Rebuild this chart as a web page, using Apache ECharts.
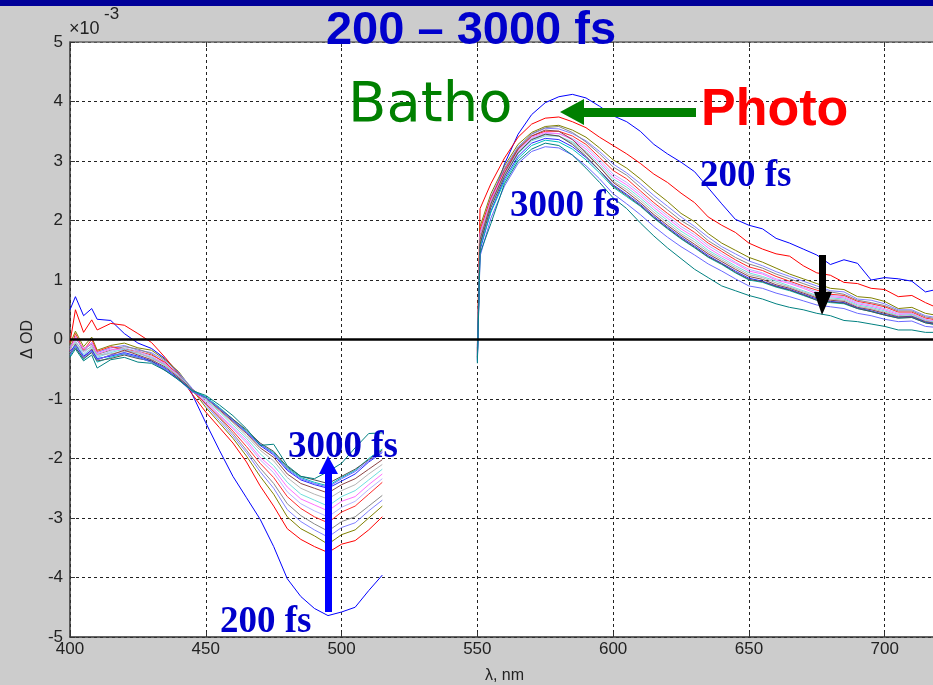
<!DOCTYPE html>
<html>
<head>
<meta charset="utf-8">
<script src="https://cdn.jsdelivr.net/npm/echarts@6/dist/echarts.min.js"></script>
<style>
  html, body { margin: 0; padding: 0; background: #cccccc; }
  #chart { width: 933px; height: 685px; }
</style>
</head>
<body>
<div id="chart"></div>
<script>
// Transient absorption difference spectra, delays from 200 fs to 3000 fs (ΔOD in units of 1e-3)
const wlLeft  = [400,402,405,408,410,415,420,425,430,435,440,445,450,455,460,465,470,475,480,485,490,495,500,505,510,515];
const wlRight = [550,551,555,560,565,570,575,580,585,590,595,600,605,610,615,620,625,630,635,640,645,650,655,660,665,670,675,680,685,690,695,700,705,710,715,720];

const xTicks = [400,450,500,550,600,650,700];
const yTicks = [-5,-4,-3,-2,-1,0,1,2,3,4,5];

// bleach region (400-515 nm), one array per delay
const left01 = [0.50,0.72,0.40,0.52,0.34,0.32,0.10,-0.06,-0.15,-0.32,-0.56,-0.92,-1.40,-1.86,-2.30,-2.66,-3.02,-3.48,-4.02,-4.32,-4.52,-4.64,-4.58,-4.50,-4.22,-3.96];
const left02 = [-0.05,0.50,0.12,0.33,0.16,0.27,0.24,0.10,-0.05,-0.30,-0.58,-0.92,-1.22,-1.48,-1.74,-2.06,-2.46,-2.80,-3.18,-3.36,-3.48,-3.58,-3.44,-3.38,-3.20,-2.98];
const left03 = [-0.08,0.14,-0.12,0.04,-0.18,-0.10,-0.06,-0.14,-0.18,-0.34,-0.54,-0.84,-1.14,-1.40,-1.66,-1.96,-2.30,-2.60,-2.98,-3.18,-3.30,-3.44,-3.28,-3.20,-3.00,-2.80];
const left04 = [-0.15,0.05,-0.20,-0.05,-0.22,-0.14,-0.10,-0.18,-0.22,-0.36,-0.56,-0.82,-1.10,-1.36,-1.62,-1.90,-2.22,-2.50,-2.86,-3.06,-3.20,-3.32,-3.16,-3.08,-2.88,-2.70];
const left05 = [-0.10,0.02,-0.15,-0.08,-0.25,-0.18,-0.12,-0.16,-0.24,-0.40,-0.58,-0.84,-1.08,-1.32,-1.58,-1.86,-2.16,-2.42,-2.76,-2.96,-3.10,-3.22,-3.06,-2.98,-2.80,-2.62];
const left06 = [-0.20,0.10,-0.18,0.00,-0.20,-0.12,-0.16,-0.20,-0.26,-0.38,-0.60,-0.86,-1.08,-1.30,-1.54,-1.80,-2.08,-2.32,-2.64,-2.84,-2.98,-3.08,-2.90,-2.80,-2.60,-2.40];
const left07 = [-0.12,-0.02,-0.24,-0.10,-0.28,-0.20,-0.14,-0.20,-0.28,-0.42,-0.60,-0.84,-1.06,-1.28,-1.50,-1.74,-2.02,-2.24,-2.56,-2.76,-2.88,-2.98,-2.82,-2.72,-2.52,-2.34];
const left08 = [-0.18,0.04,-0.16,-0.06,-0.24,-0.16,-0.18,-0.22,-0.30,-0.40,-0.62,-0.86,-1.04,-1.26,-1.48,-1.70,-1.98,-2.18,-2.48,-2.68,-2.78,-2.88,-2.72,-2.64,-2.44,-2.26];
const left09 = [-0.22,-0.06,-0.26,-0.14,-0.30,-0.22,-0.16,-0.24,-0.30,-0.44,-0.62,-0.84,-1.02,-1.22,-1.44,-1.66,-1.92,-2.12,-2.40,-2.60,-2.70,-2.80,-2.64,-2.54,-2.36,-2.18];
const left10 = [-0.16,-0.04,-0.20,-0.12,-0.26,-0.24,-0.20,-0.22,-0.32,-0.42,-0.64,-0.86,-1.00,-1.20,-1.40,-1.62,-1.86,-2.04,-2.32,-2.50,-2.60,-2.68,-2.54,-2.44,-2.26,-2.10];
const left11 = [-0.25,-0.08,-0.30,-0.16,-0.34,-0.26,-0.18,-0.26,-0.34,-0.46,-0.64,-0.84,-0.98,-1.18,-1.38,-1.58,-1.82,-1.98,-2.26,-2.42,-2.50,-2.58,-2.44,-2.34,-2.18,-2.02];
const left12 = [-0.20,-0.10,-0.28,-0.18,-0.32,-0.28,-0.22,-0.28,-0.36,-0.48,-0.66,-0.86,-0.98,-1.16,-1.36,-1.56,-1.78,-1.94,-2.20,-2.36,-2.44,-2.50,-2.38,-2.26,-2.06,-1.90];
const left13 = [-0.28,-0.12,-0.34,-0.20,-0.38,-0.30,-0.24,-0.30,-0.38,-0.50,-0.68,-0.86,-0.96,-1.14,-1.34,-1.54,-1.76,-1.90,-2.16,-2.32,-2.40,-2.46,-2.32,-2.20,-2.00,-1.84];
const left14 = [-0.24,-0.14,-0.32,-0.22,-0.36,-0.32,-0.26,-0.32,-0.36,-0.52,-0.66,-0.88,-0.98,-1.16,-1.34,-1.52,-1.74,-1.88,-2.14,-2.30,-2.36,-2.42,-2.30,-2.18,-2.02,-1.86];
const left15 = [-0.26,-0.10,-0.30,-0.20,-0.34,-0.26,-0.24,-0.30,-0.38,-0.50,-0.68,-0.88,-0.98,-1.16,-1.36,-1.56,-1.76,-1.92,-2.18,-2.34,-2.42,-2.48,-2.34,-2.22,-2.04,-1.88];
const left16 = [-0.30,-0.16,-0.36,-0.26,-0.48,-0.34,-0.30,-0.38,-0.40,-0.52,-0.68,-0.86,-0.94,-1.10,-1.28,-1.50,-1.78,-1.76,-2.12,-2.30,-2.34,-2.22,-2.08,-1.82,-1.58,-1.57];

// induced absorption region (550-720 nm), same delay order
const right01 = [-0.15,1.60,2.30,2.95,3.45,3.78,3.98,4.08,4.12,4.06,3.92,3.76,3.66,3.50,3.28,3.12,2.98,2.82,2.55,2.28,2.02,1.92,1.86,1.70,1.62,1.52,1.42,1.26,1.34,1.28,1.00,1.04,1.02,0.98,0.80,0.85];
const right02 = [-0.10,2.20,2.62,3.05,3.40,3.62,3.72,3.74,3.66,3.56,3.40,3.26,3.12,2.96,2.78,2.64,2.46,2.30,2.06,1.92,1.80,1.62,1.52,1.44,1.40,1.24,1.12,1.08,0.96,0.94,0.86,0.84,0.72,0.74,0.62,0.52];
const right03 = [-0.20,1.90,2.45,2.92,3.28,3.48,3.58,3.60,3.52,3.40,3.22,3.02,2.88,2.70,2.50,2.32,2.12,1.98,1.78,1.62,1.50,1.38,1.30,1.20,1.10,1.02,0.94,0.86,0.84,0.72,0.70,0.64,0.52,0.54,0.44,0.40];
const right04 = [-0.25,1.80,2.40,2.88,3.24,3.45,3.55,3.54,3.46,3.34,3.16,2.95,2.80,2.62,2.42,2.24,2.06,1.90,1.72,1.56,1.44,1.32,1.24,1.14,1.06,0.98,0.90,0.82,0.80,0.68,0.66,0.60,0.50,0.50,0.40,0.36];
const right05 = [-0.18,1.75,2.36,2.86,3.22,3.46,3.56,3.58,3.48,3.32,3.12,2.90,2.76,2.56,2.36,2.18,2.00,1.86,1.66,1.52,1.38,1.27,1.20,1.10,1.02,0.94,0.86,0.80,0.76,0.66,0.62,0.57,0.48,0.48,0.38,0.34];
const right06 = [-0.22,1.85,2.38,2.84,3.20,3.42,3.50,3.50,3.42,3.28,3.06,2.84,2.70,2.50,2.30,2.12,1.95,1.80,1.62,1.48,1.34,1.22,1.16,1.06,0.98,0.90,0.83,0.76,0.74,0.64,0.60,0.55,0.46,0.46,0.36,0.32];
const right07 = [-0.28,1.70,2.30,2.80,3.16,3.38,3.46,3.46,3.38,3.24,3.02,2.78,2.64,2.46,2.26,2.08,1.90,1.76,1.58,1.44,1.30,1.18,1.12,1.02,0.96,0.88,0.80,0.74,0.72,0.62,0.58,0.52,0.44,0.44,0.34,0.30];
const right08 = [-0.24,1.78,2.34,2.82,3.18,3.40,3.48,3.46,3.36,3.20,2.98,2.74,2.60,2.42,2.22,2.04,1.86,1.72,1.54,1.40,1.28,1.15,1.10,1.00,0.94,0.86,0.77,0.72,0.70,0.60,0.56,0.50,0.42,0.43,0.33,0.29];
const right09 = [-0.30,1.65,2.26,2.76,3.12,3.34,3.42,3.42,3.32,3.16,2.94,2.70,2.56,2.38,2.18,2.00,1.82,1.68,1.50,1.37,1.24,1.12,1.06,0.98,0.90,0.82,0.74,0.70,0.68,0.58,0.54,0.48,0.40,0.42,0.32,0.28];
const right10 = [-0.26,1.72,2.30,2.78,3.14,3.36,3.44,3.42,3.30,3.12,2.90,2.66,2.52,2.34,2.14,1.96,1.78,1.64,1.47,1.34,1.21,1.09,1.04,0.95,0.88,0.80,0.72,0.68,0.66,0.56,0.52,0.46,0.39,0.40,0.31,0.27];
const right11 = [-0.32,1.68,2.28,2.80,3.20,3.42,3.52,3.50,3.36,3.14,2.90,2.64,2.48,2.30,2.10,1.92,1.75,1.60,1.44,1.31,1.18,1.06,1.01,0.92,0.86,0.78,0.70,0.66,0.64,0.54,0.50,0.44,0.38,0.39,0.30,0.26];
const right12 = [-0.34,1.50,2.16,2.70,3.08,3.30,3.38,3.36,3.24,3.06,2.84,2.60,2.44,2.27,2.07,1.89,1.72,1.57,1.41,1.28,1.15,1.03,0.98,0.90,0.84,0.76,0.68,0.64,0.62,0.53,0.48,0.42,0.37,0.38,0.29,0.25];
const right13 = [-0.36,1.55,2.14,2.66,3.04,3.26,3.35,3.32,3.20,3.02,2.80,2.56,2.40,2.24,2.04,1.86,1.69,1.54,1.38,1.26,1.12,1.00,0.96,0.88,0.82,0.74,0.66,0.62,0.60,0.52,0.47,0.41,0.36,0.37,0.28,0.24];
const right14 = [-0.30,1.60,2.22,2.74,3.14,3.36,3.45,3.42,3.28,3.08,2.84,2.58,2.42,2.25,2.05,1.87,1.70,1.55,1.39,1.27,1.13,1.01,0.97,0.89,0.83,0.75,0.66,0.63,0.61,0.52,0.47,0.41,0.36,0.37,0.28,0.24];
const right15 = [-0.38,1.40,2.04,2.58,2.96,3.16,3.24,3.22,3.10,2.92,2.70,2.45,2.28,2.10,1.90,1.72,1.56,1.42,1.27,1.15,1.02,0.90,0.86,0.78,0.72,0.65,0.58,0.55,0.52,0.44,0.40,0.34,0.30,0.31,0.22,0.20];
const right16 = [-0.40,1.45,1.95,2.62,3.00,3.20,3.30,3.26,3.10,2.88,2.64,2.38,2.20,1.96,1.74,1.54,1.36,1.18,1.04,0.90,0.82,0.74,0.68,0.60,0.54,0.50,0.44,0.40,0.32,0.30,0.26,0.22,0.16,0.16,0.12,0.12];

const leftSets  = [left01,left02,left03,left04,left05,left06,left07,left08,left09,left10,left11,left12,left13,left14,left15,left16];
const rightSets = [right01,right02,right03,right04,right05,right06,right07,right08,right09,right10,right11,right12,right13,right14,right15,right16];

// trace colours, earliest delay first
const traceColors = ['#0000ff','#ff0000','#808000','#8080ff','#888888','#ff2a2a','#b4b4ff','#ff70ff',
                     '#70dede','#b4b4b4','#8b4545','#2a2aff','#00c0c0','#505050','#6a6aff','#008080'];

const chart = echarts.init(document.getElementById('chart'), null, { renderer: 'canvas' });

const series = leftSets.map((lv, i) => {
  const data = wlLeft.map((w, j) => [w, lv[j]]);
  data.push([532, '-']);
  wlRight.forEach((w, j) => data.push([w, rightSets[i][j]]));
  return {
    type: 'line',
    data: data,
    showSymbol: false,
    symbol: 'none',
    connectNulls: false,
    silent: true,
    z: 3,
    lineStyle: { color: traceColors[i], width: 1 }
  };
});

// heavy zero baseline
series.push({
  type: 'line',
  data: [],
  silent: true,
  z: 4,
  markLine: {
    silent: true,
    symbol: ['none', 'none'],
    label: { show: false },
    lineStyle: { color: '#000', width: 2.5, type: 'solid' },
    data: [{ yAxis: 0 }]
  }
});

const labelFont = '"Liberation Sans", Arial, sans-serif';
const fsFont = '"Liberation Serif", "Times New Roman", serif';
const annBlue = '#0000cc';

chart.setOption({
  animation: false,
  backgroundColor: '#cccccc',
  grid: {
    left: 70, right: -6, top: 42, bottom: 48,
    outerBoundsMode: 'none',
    containLabel: false,
    show: true, backgroundColor: '#ffffff', borderWidth: 0
  },
  xAxis: [{
    type: 'value', min: 400, max: 720, interval: 50, position: 'bottom',
    name: 'λ, nm', nameLocation: 'middle', nameGap: 31,
    nameTextStyle: { color: '#222', fontSize: 16, fontFamily: labelFont },
    axisLine: { show: true, onZero: false, lineStyle: { color: '#333', width: 1.5 } },
    axisTick: { show: true, inside: true, length: 5, lineStyle: { color: '#333' } },
    axisLabel: { color: '#222', fontSize: 17, fontFamily: labelFont, margin: 4, showMaxLabel: false,
                 formatter: v => (xTicks.indexOf(v) >= 0 ? String(v) : '') },
    splitLine: { show: true, lineStyle: { color: '#222', width: 1, type: [3, 3] } }
  }, {
    type: 'value', min: 400, max: 720, interval: 50, position: 'top',
    axisLine: { show: true, onZero: false, lineStyle: { color: '#666', width: 1.5 } },
    axisTick: { show: true, inside: true, length: 5, lineStyle: { color: '#333' } },
    axisLabel: { show: false },
    splitLine: { show: false }
  }],
  yAxis: {
    type: 'value', min: -5, max: 5, interval: 1,
    name: 'Δ OD', nameLocation: 'middle', nameGap: 34, nameRotate: 90,
    nameTextStyle: { color: '#222', fontSize: 16, fontFamily: labelFont },
    axisLine: { show: true, onZero: false, lineStyle: { color: '#333', width: 1.5 } },
    axisTick: { show: true, inside: true, length: 5, lineStyle: { color: '#333' } },
    axisLabel: { color: '#222', fontSize: 17, fontFamily: labelFont, margin: 7,
                 formatter: v => (yTicks.indexOf(v) >= 0 ? String(v) : '') },
    splitLine: { show: true, lineStyle: { color: '#222', width: 1, type: [3, 3] } }
  },
  series: series,
  graphic: { elements: [
    { type: 'rect', z: 100, shape: { x: 0, y: 0, width: 933, height: 6 }, style: { fill: '#000099' } },
    { type: 'text', z: 100, x: 69, y: 29, style: { text: '×10', font: '18px ' + labelFont, fill: '#222', align: 'left', verticalAlign: 'middle' } },
    { type: 'text', z: 100, x: 104, y: 14, style: { text: '-3', font: '17px ' + labelFont, fill: '#222', align: 'left', verticalAlign: 'middle' } },
    { type: 'text', z: 100, x: 471, y: 31, style: { text: '200 – 3000 fs', font: 'bold 47px ' + labelFont, fill: annBlue, align: 'center', verticalAlign: 'middle' } },
    { type: 'text', z: 100, x: 348, y: 106, style: { text: 'Batho', font: '56px "DejaVu Sans", Verdana, sans-serif', fill: '#008000', align: 'left', verticalAlign: 'middle' } },
    { type: 'text', z: 100, x: 701, y: 111, style: { text: 'Photo', font: 'bold 52px ' + labelFont, fill: '#ff0000', align: 'left', verticalAlign: 'middle' } },
    { type: 'polygon', z: 100, shape: { points: [[560,112],[584,99],[584,108],[696,108],[696,117],[584,117],[584,125]] }, style: { fill: '#008000' } },
    { type: 'text', z: 100, x: 700, y: 176, style: { text: '200 fs', font: 'bold 37px ' + fsFont, fill: annBlue, align: 'left', verticalAlign: 'middle' } },
    { type: 'text', z: 100, x: 510, y: 206, style: { text: '3000 fs', font: 'bold 37px ' + fsFont, fill: annBlue, align: 'left', verticalAlign: 'middle' } },
    { type: 'polygon', z: 100, shape: { points: [[822,315],[814,292],[819,292],[819,255],[826,255],[826,292],[832,292]] }, style: { fill: '#000000' } },
    { type: 'text', z: 100, x: 288, y: 447, style: { text: '3000 fs', font: 'bold 37px ' + fsFont, fill: annBlue, align: 'left', verticalAlign: 'middle' } },
    { type: 'text', z: 100, x: 220, y: 622, style: { text: '200 fs', font: 'bold 37px ' + fsFont, fill: annBlue, align: 'left', verticalAlign: 'middle' } },
    { type: 'polygon', z: 101, shape: { points: [[328,456],[319,474],[325,474],[325,612],[332,612],[332,474],[338,474]] }, style: { fill: '#0000ff' } }
  ] }
});
</script>
</body>
</html>
